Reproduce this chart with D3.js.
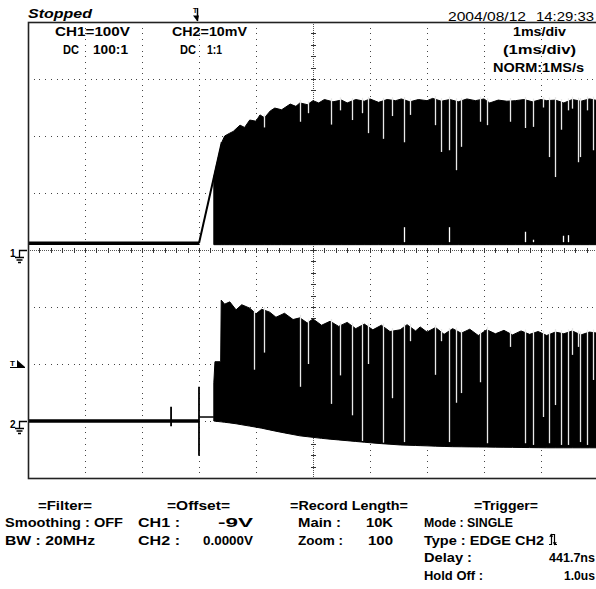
<!DOCTYPE html>
<html><head><meta charset="utf-8">
<script src="https://cdn.jsdelivr.net/npm/d3@7"></script>
<style>
body{margin:0;background:#fff}
svg{display:block}
text{font-family:"Liberation Sans",Arial,sans-serif;fill:#000}
</style>
</head><body><svg id="c" width="596" height="589"></svg>
<script>
// ---------------- DATA ----------------
const timeDomain = [-3, 7];          // ms, trigger at 0, 1 ms/div
const divDomain = [-4, 4];           // vertical divisions
const ch1VoltsPerDiv = 100, ch1GroundDiv = 0;
const ch2MilliVoltsPerDiv = 10, ch2GroundDiv = -3;
const triggerLevelMV = 10;

// CH1 (V)
const ch1BaseV = 12;
const ch1Flat = [[-3, 12], [0, 12]];
const ch1Ramp = [[0, 12], [0.40, 189]];
const ch1Top = [[0.26,128],[0.40,189],[0.45,200],[0.54,205],[0.60,208],[0.72,219],[0.80,215],[0.89,228],[1.00,226],[1.07,237],[1.15,232],[1.25,244],[1.33,249],[1.45,246],[1.60,256],[1.70,252],[1.77,258],[1.90,255],[2.00,262],[2.10,258],[2.20,264],[2.35,260],[2.50,263],[2.60,258],[2.75,264],[2.90,261],[3.00,265],[3.15,259],[3.30,264],[3.45,262],[3.55,265],[3.70,260],[3.85,264],[4.00,262],[4.10,266],[4.25,261],[4.40,264],[4.55,260],[4.70,265],[4.85,262],[5.00,265],[5.10,258],[5.25,263],[5.40,261],[5.55,262],[5.70,264],[5.85,260],[6.00,264],[6.10,262],[6.25,263],[6.40,258],[6.55,264],[6.70,261],[6.85,265],[7.00,262]];
const ch1BottomGapT = [3.60, 4.39, 5.72, 5.86, 6.39, 6.47];
const ch1BottomGapV = [40, 40, 32, 18, 25, 26];

// CH2 (mV)
const ch2Flat = [[-3, 0], [0, 0]];
const ch2PostTrig = [[0, 0.7], [0.26, 0.7]];
const ch2SpikeT = [-0.49, 0.0];
const ch2SpikeMax = [2.5, 6.0];
const ch2SpikeMin = [-0.9, -6.1];
const ch2Top = [[0.26,6.7],[0.28,10.4],[0.38,10.4],[0.39,21.2],[0.45,20.5],[0.54,20.9],[0.65,19.5],[0.75,20.4],[0.89,19.8],[1.00,18.8],[1.10,19.6],[1.24,19.1],[1.35,18.2],[1.50,18.9],[1.65,17.8],[1.77,18.1],[1.90,17.2],[2.00,17.9],[2.15,16.8],[2.30,17.5],[2.45,16.6],[2.60,17.3],[2.75,16.2],[2.90,17.0],[3.05,16.0],[3.20,16.8],[3.35,15.7],[3.53,16.0],[3.65,16.9],[3.80,15.8],[3.88,16.5],[4.00,15.6],[4.15,16.4],[4.30,15.2],[4.45,16.2],[4.60,15.4],[4.75,16.1],[4.90,15.0],[5.05,16.0],[5.20,15.3],[5.35,15.9],[5.50,15.1],[5.65,15.8],[5.80,15.2],[5.95,15.7],[6.10,15.0],[6.25,15.6],[6.40,15.3],[6.55,15.8],[6.70,15.1],[6.85,15.6],[7.00,15.4]];
const ch2Bottom = [[0.26,0],[0.60,-0.4],[1.07,-1.2],[1.40,-1.9],[1.77,-2.6],[2.20,-3.1],[2.65,-3.5],[3.10,-3.9],[3.53,-4.2],[4.40,-4.5],[5.28,-4.6],[6.10,-4.7],[7.00,-4.7]];

// drop-outs shared by both channels
const dropT    = [0.96,1.14,1.77,1.91,2.32,2.47,2.68,2.86,2.96,3.23,3.39,3.60,3.70,4.14,4.25,4.39,4.51,4.60,4.93,5.05,5.46,5.72,5.86,6.04,6.14,6.25,6.35,6.47,6.54,6.65,6.68,6.81,6.91];
const ch1DropV = [230,215,225,240,220,245,228,240,205,195,235,189,237,219,172,175,140,181,225,219,225,214,216,250,163,128,211,245,248,154,163,245,175];
const ch2DropMV= [9,12,6,10,3,8,1,-3.5,10,-3.8,4,-3.7,14,8.1,14,-3.7,3.2,4.9,6.8,-3.9,13,-3.9,-4.2,0.7,-3.9,2.8,-4.2,-4.2,11.6,13,-3.7,-4.2,7.2];

// texts
const headerLabels = ["Stopped", "2004/08/12", "14:29:33"];
const ch1Labels = ["CH1=100V", "DC", "100:1"];
const ch2Labels = ["CH2=10mV", "DC", "1:1"];
const timebaseLabels = ["1ms/div", "(1ms/div)", "NORM:1MS/s"];
const filterLabels = ["=Filter=", "Smoothing : OFF", "BW : 20MHz"];
const offsetLabels = ["=Offset=", "CH1 :", "-9V", "CH2 :", "0.0000V"];
const recordLabels = ["=Record Length=", "Main :", "10K", "Zoom :", "100"];
const triggerLabels = ["=Trigger=", "Mode : SINGLE", "Type : EDGE CH2", "Delay :", "441.7ns", "Hold Off :", "1.0us"];

// ---------------- DRAW ----------------
const svg = d3.select('#c');
const L = 28, R = 598, T = 22, B = 478;
const x = d3.scaleLinear().domain(timeDomain).range([L, R]);
const yDiv = d3.scaleLinear().domain(divDomain).range([B, T]);
const y1 = v => yDiv(v / ch1VoltsPerDiv + ch1GroundDiv);
const y2 = v => yDiv(v / ch2MilliVoltsPerDiv + ch2GroundDiv);

// grid
const grid = svg.append('g');
const centerT = (timeDomain[0] + timeDomain[1]) / 2;
const vLines = d3.range(timeDomain[0] + 1, timeDomain[1]).filter(t => t !== centerT);
const hLines = d3.range(divDomain[0] + 1, divDomain[1]).filter(d => d !== 0);
const dots = [];
vLines.forEach(t => d3.range(0, 81).forEach(k => dots.push([Math.round(x(t)), Math.round(yDiv(divDomain[0] + k * 0.1))])));
hLines.forEach(d => d3.range(0, 101).forEach(k => dots.push([Math.round(x(timeDomain[0] + k * 0.1)), Math.round(yDiv(d))])));
grid.selectAll('rect.dot').data(dots).join('rect').attr('class','dot')
  .attr('x', d => d[0]).attr('y', d => d[1]).attr('width', 1).attr('height', 1).attr('fill', '#444');
// center axes
const cx = Math.round(x(centerT)) + 0.5, cy = Math.round(yDiv(0)) + 0.5;
grid.append('line').attr('x1', L).attr('x2', R).attr('y1', cy).attr('y2', cy)
  .attr('stroke', '#555').attr('stroke-dasharray', '1,1');
grid.append('line').attr('x1', cx).attr('x2', cx).attr('y1', T).attr('y2', B)
  .attr('stroke', '#555').attr('stroke-dasharray', '1,1');
grid.selectAll('line.tx').data(d3.range(0, 51).map(k => timeDomain[0] + k * 0.2)).join('line').attr('class','tx')
  .attr('x1', d => Math.round(x(d)) + 0.5).attr('x2', d => Math.round(x(d)) + 0.5)
  .attr('y1', cy - 2.5).attr('y2', cy + 2.5).attr('stroke', '#333');
grid.selectAll('line.ty').data(d3.range(0, 41).map(k => divDomain[0] + k * 0.2)).join('line').attr('class','ty')
  .attr('y1', d => Math.round(yDiv(d)) + 0.5).attr('y2', d => Math.round(yDiv(d)) + 0.5)
  .attr('x1', cx - 2.5).attr('x2', cx + 2.5).attr('stroke', '#333');

// traces
svg.append('clipPath').attr('id', 'clip').append('rect').attr('x', L).attr('y', T).attr('width', R - L).attr('height', B - T);
const tr = svg.append('g').attr('clip-path', 'url(#clip)');
const lineGen = yf => d3.line().x(d => x(d[0])).y(d => yf(d[1]));
const interp = arr => d3.scaleLinear().domain(arr.map(d => d[0])).range(arr.map(d => d[1])).clamp(true);

// CH1
tr.append('path').attr('d', lineGen(y1)(ch1Flat)).attr('stroke', '#000').attr('stroke-width', 3.5).attr('fill', 'none');
tr.append('path').attr('d', d3.area().x(d => x(d[0])).y0(y1(ch1BaseV) + 1.5).y1(d => y1(d[1]))(ch1Top))
  .attr('fill', '#000').attr('stroke', '#000').attr('stroke-width', 1);
tr.append('path').attr('d', lineGen(y1)(ch1Ramp)).attr('stroke', '#000').attr('stroke-width', 2).attr('fill', 'none');

// CH2
tr.append('path').attr('d', lineGen(y2)(ch2Flat)).attr('stroke', '#000').attr('stroke-width', 3.5).attr('fill', 'none');
tr.append('path').attr('d', lineGen(y2)(ch2PostTrig)).attr('stroke', '#000').attr('stroke-width', 1.5).attr('fill', 'none');
ch2SpikeT.forEach((t, i) => tr.append('line').attr('x1', x(t)).attr('x2', x(t))
  .attr('y1', y2(ch2SpikeMax[i])).attr('y2', y2(ch2SpikeMin[i])).attr('stroke', '#000').attr('stroke-width', 1.8));
const ch2BotF = interp(ch2Bottom);
tr.append('path').attr('d', d3.area().x(d => x(d[0])).y0(d => y2(ch2BotF(d[0]))).y1(d => y2(d[1]))(ch2Top))
  .attr('fill', '#000').attr('stroke', '#000').attr('stroke-width', 1);

// dropouts
const ch1TopF = interp(ch1Top), ch2TopF = interp(ch2Top);
dropT.forEach((t, i) => {
  const xx = Math.round(x(t)) + 0.5;
  const a1 = y1(ch1TopF(t)) - 3, b1 = y1(ch1DropV[i]);
  if (b1 > a1 + 3) tr.append('line').attr('x1', xx).attr('x2', xx).attr('y1', a1).attr('y2', b1).attr('stroke', '#e8e8e8').attr('stroke-width', 1.3);
  const a2 = y2(ch2TopF(t)) - 3, b2 = y2(ch2DropMV[i]);
  if (b2 > a2 + 3) tr.append('line').attr('x1', xx).attr('x2', xx).attr('y1', a2).attr('y2', b2).attr('stroke', '#e8e8e8').attr('stroke-width', 1.3);
});
ch1BottomGapT.forEach((t, i) => {
  const xx = Math.round(x(t)) + 0.5;
  tr.append('line').attr('x1', xx).attr('x2', xx).attr('y1', y1(ch1BaseV) - 1).attr('y2', y1(ch1BottomGapV[i]))
    .attr('stroke', '#fff').attr('stroke-width', 1.3);
});

// box
svg.append('rect').attr('x', L + 0.5).attr('y', T + 0.5).attr('width', R - L).attr('height', B - T)
  .attr('fill', 'none').attr('stroke', '#222').attr('stroke-width', 1.6);

// markers
const mk = svg.append('g').attr('fill', '#000').attr('stroke', '#000');
function ground(yg, label) {
  mk.append('text').attr('x', 10).attr('y', yg + 6.5).attr('font-size', 10).attr('font-weight', 'bold').attr('stroke', 'none').text(label);
  mk.append('path').attr('d', `M27,${yg + 0.5}H19.5V${yg + 7}M15,${yg + 7.5}H24M16.5,${yg + 10}H22.5M18,${yg + 12.5}H21`)
    .attr('fill', 'none').attr('stroke-width', 1.3);
}
ground(Math.round(yDiv(ch1GroundDiv)), '1');
ground(Math.round(yDiv(ch2GroundDiv)), '2');
const yt = Math.round(y2(triggerLevelMV));
mk.append('text').attr('x', 10).attr('y', yt + 2).attr('font-size', 8).attr('font-weight', 'bold').attr('stroke', 'none').text('T');
mk.append('path').attr('d', `M17,${yt - 4}L25,${yt + 3}H17Z`).attr('stroke', 'none');
mk.append('path').attr('d', `M10,${yt + 3.5}H25`).attr('stroke-width', 1).attr('fill', 'none');
const xt = Math.round(x(0));
mk.append('text').attr('x', xt - 6).attr('y', 13).attr('font-size', 7).attr('font-weight', 'bold').attr('stroke', 'none').text('T');
mk.append('path').attr('d', `M${xt - 1.5},8V21`).attr('stroke-width', 1.5).attr('fill', 'none');
mk.append('path').attr('d', `M${xt - 6},15.5H${xt}L${xt - 1.5},21.5Z`).attr('stroke', 'none');

// texts
function label(s, x0, x1, yb, o = {}) {
  const t = svg.append('text').attr('x', x0).attr('y', yb).text(s)
    .attr('font-size', o.size || 12).attr('font-weight', o.weight || 'bold');
  if (o.italic) t.attr('font-style', 'italic');
  if (x1) t.attr('textLength', x1 - x0).attr('lengthAdjust', 'spacingAndGlyphs');
  return t;
}
label(headerLabels[0], 28, 92, 18, {size: 13, italic: true});
label(headerLabels[1], 448, 526, 21, {size: 12.5, weight: 'normal'});
label(headerLabels[2], 536, 594, 21, {size: 12.5, weight: 'normal'});

label(ch1Labels[0], 55, 130, 36);
label(ch1Labels[1], 63, 79, 54);
label(ch1Labels[2], 93, 128, 54);
label(ch2Labels[0], 172, 247, 36);
label(ch2Labels[1], 180, 196, 54);
label(ch2Labels[2], 207, 222, 54);
label(timebaseLabels[0], 513, 566, 36);
label(timebaseLabels[1], 503, 576, 54);
label(timebaseLabels[2], 493, 584, 72);

const rowY = [509.5, 527, 544.5, 562, 579.5];
label(filterLabels[0], 38, 92, rowY[0]);
label(filterLabels[1], 5, 123, rowY[1]);
label(filterLabels[2], 5, 95, rowY[2]);
label(offsetLabels[0], 167, 230, rowY[0]);
label(offsetLabels[1], 138, 180, rowY[1]);
label(offsetLabels[2], 218, 253, rowY[1]);
label(offsetLabels[3], 138, 180, rowY[2]);
label(offsetLabels[4], 203, 253, rowY[2]);
label(recordLabels[0], 290, 408, rowY[0]);
label(recordLabels[1], 298, 341, rowY[1]);
label(recordLabels[2], 366, 393, rowY[1]);
label(recordLabels[3], 298, 343, rowY[2]);
label(recordLabels[4], 368, 393, rowY[2]);
label(triggerLabels[0], 474, 538, rowY[0]);
label(triggerLabels[1], 424, 513, rowY[1]);
label(triggerLabels[2], 424, 544, rowY[2]);
label(triggerLabels[3], 424, 472, rowY[3]);
label(triggerLabels[4], 549, 595, rowY[3]);
label(triggerLabels[5], 424, 483, rowY[4]);
label(triggerLabels[6], 564, 595, rowY[4]);
// edge symbol (rise/fall)
const ey = rowY[2];
svg.append('path').attr('d', `M549,${ey}h2.5v-10h3v10h2.5`)
  .attr('fill', 'none').attr('stroke', '#000').attr('stroke-width', 1.2);
svg.append('path').attr('d', `M551.2,${ey - 11}l-2,3.2h4z M554.8,${ey + 1}l-2,-3.2h4z`).attr('fill', '#000');
</script>
</body></html>
